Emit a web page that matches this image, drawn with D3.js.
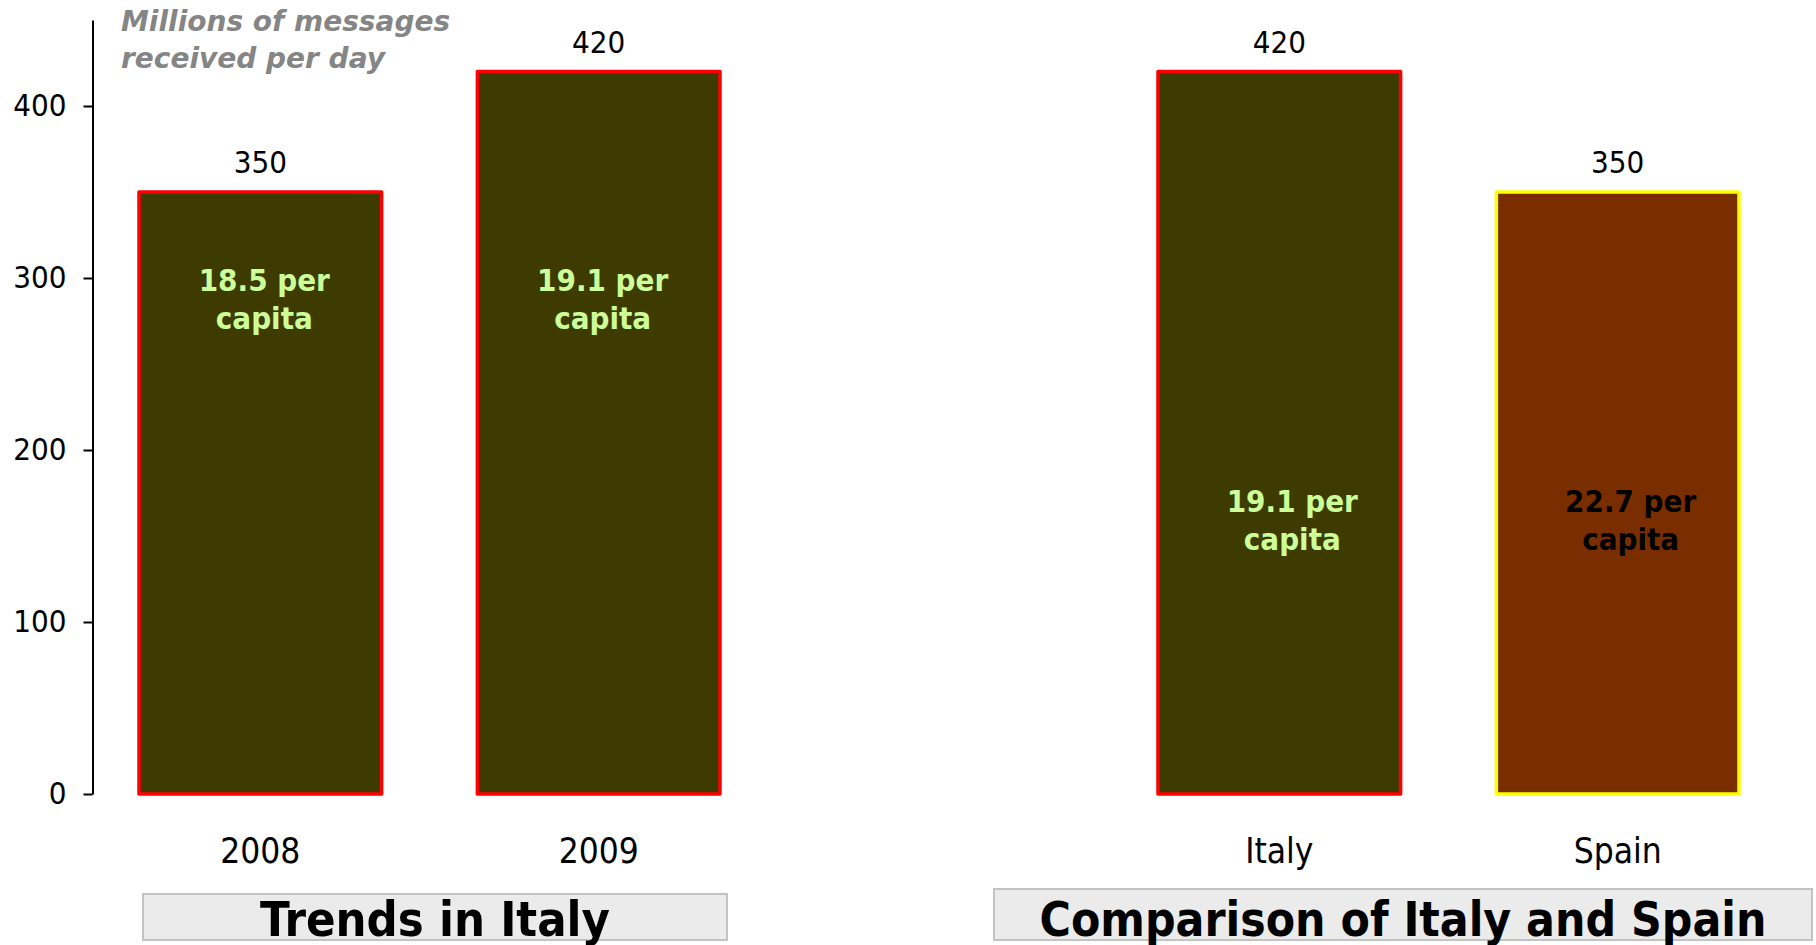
<!DOCTYPE html>
<html>
<head>
<meta charset="utf-8">
<script src="https://cdn.jsdelivr.net/npm/d3@7"></script>
<style>
  html, body { margin: 0; padding: 0; background: #fff; }
  svg { display: block; }
  text { font-family: "DejaVu Sans Condensed", "DejaVu Sans", sans-serif; }
</style>
</head>
<body>
<svg id="chart" width="1816" height="945"></svg>
<script>
// Messages received per day (millions) and per-capita figures
const trendYears = ["2008", "2009"];
const trendValues = [350, 420];
const trendPerCapita = [18.5, 19.1];

const countries = ["Italy", "Spain"];
const countryValues = [420, 350];
const countryPerCapita = [19.1, 22.7];

const yTicks = [0, 100, 200, 300, 400];
const axisTitleLines = ["Millions of messages", "received per day"];
const panelTitles = ["Trends in Italy", "Comparison of Italy and Spain"];

const svg = d3.select("#chart");

// shared value scale
const y = d3.scaleLinear().domain([0, 450]).range([794, 20]);

// one band scale per panel
const xTrend = d3.scaleBand().domain(trendYears).range([139, 720]).paddingInner(0.283).paddingOuter(0);
const xCountry = d3.scaleBand().domain(countries).range([1158, 1739]).paddingInner(0.283).paddingOuter(0);

// y axis
const yAxis = d3.axisLeft(y).tickValues(yTicks).tickSize(9).tickSizeOuter(0).tickPadding(17);
const gAxis = svg.append("g").attr("transform", "translate(92.5,0)").call(yAxis);
gAxis.select(".domain").attr("stroke", "#000").attr("stroke-width", 2);
gAxis.selectAll(".tick line").attr("stroke", "#000").attr("stroke-width", 2);
gAxis.selectAll(".tick text")
  .attr("font-size", 31)
  .attr("fill", "#000")
  .style("font-family", "\"DejaVu Sans Condensed\", \"DejaVu Sans\", sans-serif");

// axis title
svg.append("g").selectAll("text").data(axisTitleLines).join("text")
  .attr("x", 121)
  .attr("y", (d, i) => 31 + i * 37)
  .attr("font-size", 28)
  .attr("font-weight", "bold")
  .attr("font-style", "italic")
  .attr("fill", "#858585")
  .style("font-family", "\"DejaVu Sans\", sans-serif")
  .text(d => d);

function drawPanel(cats, vals, perCap, x, styles, labelBaseline, dx) {
  const rows = cats.map((c, i) => ({ cat: c, value: vals[i], per: perCap[i], style: styles[i] }));
  const g = svg.append("g");

  g.selectAll("rect.bar").data(rows).join("rect")
    .attr("class", "bar")
    .attr("x", d => x(d.cat))
    .attr("y", d => y(d.value))
    .attr("width", x.bandwidth())
    .attr("height", d => y(0) - y(d.value))
    .attr("fill", d => d.style.fill)
    .attr("stroke", d => d.style.stroke)
    .attr("stroke-width", 3.5)
    .attr("stroke-linejoin", "round");

  // value above each bar
  g.selectAll("text.value").data(rows).join("text")
    .attr("class", "value")
    .attr("x", d => x(d.cat) + x.bandwidth() / 2)
    .attr("y", d => y(d.value) - 19)
    .attr("text-anchor", "middle")
    .attr("font-size", 31)
    .attr("fill", "#000")
    .text(d => d.value);

  // per-capita note inside each bar
  const note = g.selectAll("text.note").data(rows).join("text")
    .attr("class", "note")
    .attr("text-anchor", "middle")
    .attr("font-size", 31)
    .attr("font-weight", "bold")
    .attr("fill", d => d.style.note);
  note.append("tspan")
    .attr("x", d => x(d.cat) + x.bandwidth() / 2 + dx)
    .attr("y", labelBaseline)
    .text(d => d3.format(".1f")(d.per) + " per");
  note.append("tspan")
    .attr("x", d => x(d.cat) + x.bandwidth() / 2 + dx)
    .attr("y", labelBaseline + 38)
    .text("capita");

  // category labels
  g.selectAll("text.cat").data(rows).join("text")
    .attr("class", "cat")
    .attr("x", d => x(d.cat) + x.bandwidth() / 2)
    .attr("y", 863)
    .attr("text-anchor", "middle")
    .attr("font-size", 35)
    .attr("fill", "#000")
    .text(d => d.cat);
}

const olive = { fill: "#3d3b00", stroke: "#ff0000", note: "#ccff99" };
const brown = { fill: "#7a2e00", stroke: "#ffff00", note: "#000000" };

drawPanel(trendYears, trendValues, trendPerCapita, xTrend, [olive, olive], 291, 4);
drawPanel(countries, countryValues, countryPerCapita, xCountry, [olive, brown], 512, 13);

// panel captions in grey boxes
const boxes = [
  { x0: 143, x1: 727, y0: 894, y1: 940, title: panelTitles[0], width: 350 },
  { x0: 994, x1: 1812, y0: 889, y1: 940, title: panelTitles[1], width: 727 }
];
const gb = svg.append("g");
gb.selectAll("rect").data(boxes).join("rect")
  .attr("x", d => d.x0).attr("y", d => d.y0)
  .attr("width", d => d.x1 - d.x0).attr("height", d => d.y1 - d.y0)
  .attr("fill", "#ebebeb").attr("stroke", "#c3c3c3").attr("stroke-width", 2);
gb.selectAll("text").data(boxes).join("text")
  .attr("x", d => (d.x0 + d.x1) / 2)
  .attr("y", 936)
  .attr("text-anchor", "middle")
  .attr("font-size", 48)
  .attr("font-weight", "bold")
  .attr("fill", "#000")
  .attr("textLength", d => d.width)
  .attr("lengthAdjust", "spacingAndGlyphs")
  .text(d => d.title);
</script>
</body>
</html>
